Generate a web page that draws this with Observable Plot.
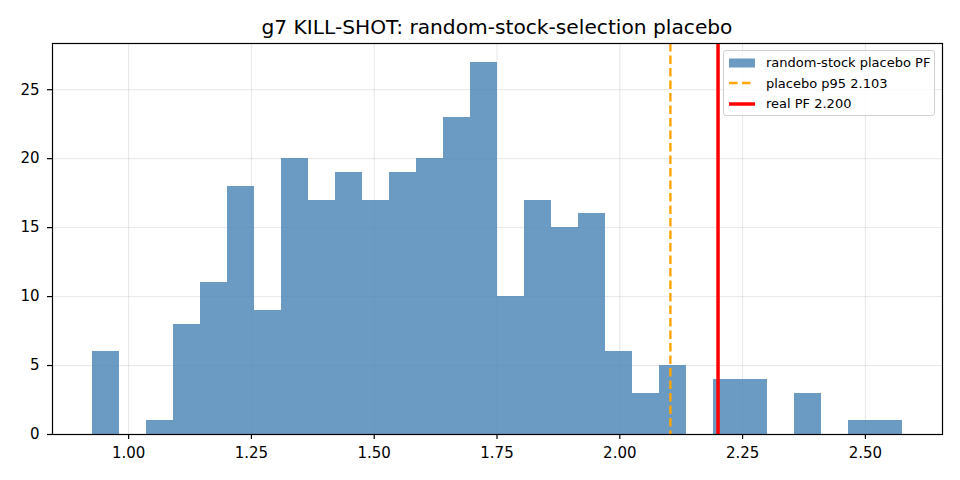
<!DOCTYPE html>
<html>
<head>
<meta charset="utf-8">
<script src="https://cdn.jsdelivr.net/npm/d3@7"></script>
<script src="https://cdn.jsdelivr.net/npm/@observablehq/plot@0.6"></script>
<style>
  html, body { margin: 0; padding: 0; background: #fff; }
  #wrap { position: relative; width: 960px; height: 480px; font-family: "DejaVu Sans", sans-serif; }
  #title { position: absolute; left: 52px; width: 890px; top: 17px; line-height: 20px; text-align: center; font-size: 20.2px; color: #000; white-space: nowrap; }
  #chart { position: absolute; left: 0; top: 40px; }
  #legend { position: absolute; left: 723px; top: 50px; width: 212px; height: 66px; border: 1px solid #d0d0d0; border-radius: 3px; background: rgba(255,255,255,0.8); font-size: 13px; color: #000; box-sizing: border-box; }
  .row { position: absolute; left: 5px; height: 14px; display: flex; align-items: center; }
  .row span { margin-left: 11px; white-space: nowrap; }
</style>
</head>
<body>
<div id="wrap">
  <div id="title"></div>
  <div id="chart"></div>
  <div id="legend"></div>
</div>
<script>
const titleText = "g7 KILL-SHOT: random-stock-selection placebo";
const binEdges = [0.927,0.982,1.037,1.092,1.147,1.202,1.257,1.312,1.366,1.421,1.476,1.531,1.586,1.641,1.696,1.751,1.806,1.861,1.916,1.971,2.026,2.081,2.135,2.190,2.245,2.300,2.355,2.410,2.465,2.520,2.575];
const counts = [6,0,1,8,11,18,9,20,17,19,17,19,20,23,27,10,17,15,16,6,3,5,0,4,4,0,3,0,1,1];
const placeboP95 = 2.103;
const realPF = 2.200;
const xTicks = [1.00,1.25,1.50,1.75,2.00,2.25,2.50];
const yTicks = [0,5,10,15,20,25];
const legendLabels = ["random-stock placebo PF", "placebo p95 2.103", "real PF 2.200"];

const bins = counts.map((c, i) => ({x1: binEdges[i], x2: binEdges[i + 1], y: c}));

document.getElementById("title").textContent = titleText;

const chart = Plot.plot({
  width: 960,
  height: 440,
  marginTop: 3,
  marginBottom: 46,
  marginLeft: 52,
  marginRight: 18,
  style: {fontFamily: "'DejaVu Sans', sans-serif", fontSize: "15px", color: "#000", background: "#fff"},
  x: {domain: [0.845, 2.657]},
  y: {domain: [0, 28.35]},
  marks: [
    Plot.gridX(xTicks, {stroke: "#b0b0b0", strokeOpacity: 0.3, strokeWidth: 1}),
    Plot.gridY(yTicks, {stroke: "#b0b0b0", strokeOpacity: 0.3, strokeWidth: 1}),
    Plot.rectY(bins, {x1: "x1", x2: "x2", y: "y", fill: "steelblue", fillOpacity: 0.8, inset: 0, shapeRendering: "crispEdges"}),
    Plot.ruleX([placeboP95], {stroke: "orange", strokeWidth: 2.4, strokeDasharray: "8.5,4"}),
    Plot.ruleX([realPF], {stroke: "red", strokeWidth: 3.5}),
    Plot.axisX(xTicks, {tickFormat: d3.format(".2f"), tickSize: 5, tickPadding: 8, label: null, stroke: "#000", strokeWidth: 1.2}),
    Plot.axisY(yTicks, {tickFormat: d3.format("d"), tickSize: 5, tickPadding: 8, label: null, stroke: "#000", strokeWidth: 1.2}),
    Plot.frame({stroke: "#000", strokeWidth: 1.2})
  ]
});
document.getElementById("chart").appendChild(chart);

const legend = document.getElementById("legend");
const swatches = [
  '<svg width="26" height="10"><rect x="0" y="0.5" width="26" height="9" fill="steelblue" fill-opacity="0.8"/></svg>',
  '<svg width="26" height="10"><line x1="0" x2="26" y1="5" y2="5" stroke="orange" stroke-width="2.4" stroke-dasharray="8.5,4.5"/></svg>',
  '<svg width="26" height="10"><line x1="0" x2="26" y1="5" y2="5" stroke="red" stroke-width="3.5"/></svg>'
];
legendLabels.forEach((lab, i) => {
  const row = document.createElement("div");
  row.className = "row";
  row.style.top = (4.5 + i * 20.5) + "px";
  row.innerHTML = swatches[i] + "<span></span>";
  row.querySelector("span").textContent = lab;
  legend.appendChild(row);
});
</script>
</body>
</html>
